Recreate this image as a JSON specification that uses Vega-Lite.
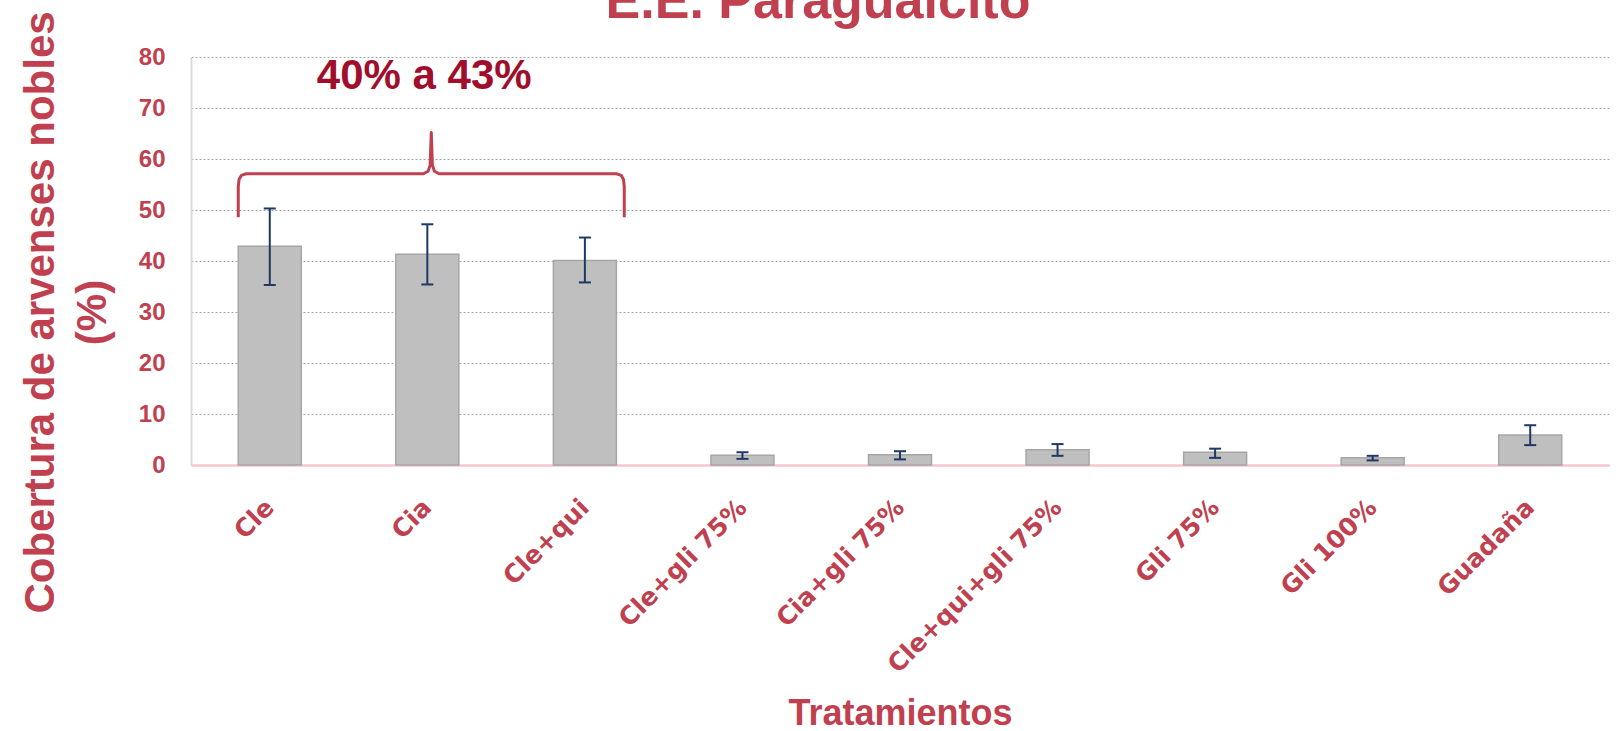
{
  "$schema": "https://vega.github.io/schema/vega-lite/v6.json",
  "autosize": "none",
  "width": 1418,
  "height": 408,
  "padding": {"left": 191, "top": 57, "right": 10, "bottom": 266},
  "background": "white",
  "config": {"view": {"stroke": null}, "font": "Liberation Sans"},
  "title": {"text": "E.E. Paraguaicito", "fontSize": 52, "fontWeight": "bold", "color": "#C0404F", "font": "Liberation Sans", "baseline": "alphabetic", "offset": 0, "dy": 59, "dx": -82},
  "datasets": {
    "bars": [
      {"trat": "Cle", "media": 42.9, "lo": 35.3, "hi": 50.3},
      {"trat": "Cia", "media": 41.3, "lo": 35.4, "hi": 47.2},
      {"trat": "Cle+qui", "media": 40.1, "lo": 35.8, "hi": 44.6},
      {"trat": "Cle+gli 75%", "media": 1.9, "lo": 1.2, "hi": 2.5},
      {"trat": "Cia+gli 75%", "media": 2.0, "lo": 1.1, "hi": 2.7},
      {"trat": "Cle+qui+gli 75%", "media": 3.0, "lo": 1.8, "hi": 4.1},
      {"trat": "Gli 75%", "media": 2.5, "lo": 1.4, "hi": 3.2},
      {"trat": "Gli 100%", "media": 1.4, "lo": 0.9, "hi": 1.8},
      {"trat": "Guadaña", "media": 5.9, "lo": 3.9, "hi": 7.8}
    ],
    "brace": [
      {"k": 1, "bx": 0.30, "by": 48.6},
      {"k": 2, "bx": 0.30, "by": 54.6},
      {"k": 3, "bx": 0.305, "by": 56.0},
      {"k": 4, "bx": 0.32, "by": 56.8},
      {"k": 5, "bx": 0.35, "by": 57.1},
      {"k": 6, "bx": 1.475, "by": 57.1},
      {"k": 7, "bx": 1.505, "by": 57.6},
      {"k": 8, "bx": 1.518, "by": 58.8},
      {"k": 9, "bx": 1.525, "by": 65.2},
      {"k": 10, "bx": 1.532, "by": 58.8},
      {"k": 11, "bx": 1.545, "by": 57.6},
      {"k": 12, "bx": 1.575, "by": 57.1},
      {"k": 13, "bx": 2.70, "by": 57.1},
      {"k": 14, "bx": 2.73, "by": 56.8},
      {"k": 15, "bx": 2.745, "by": 56.0},
      {"k": 16, "bx": 2.75, "by": 54.6},
      {"k": 17, "bx": 2.75, "by": 48.6}
    ],
    "note": [{"nx": 1.48, "ny": 76.3, "label": "40% a 43%"}]
  },
  "layer": [
    {
      "data": {"name": "bars"},
      "layer": [
        {
          "mark": {"type": "bar", "fill": "#BFBFBF", "stroke": "#A6A6A6", "strokeWidth": 1.5},
          "encoding": {
            "x": {
              "field": "trat", "type": "nominal", "sort": null,
              "scale": {"paddingInner": 0.6, "paddingOuter": 0.3},
              "axis": {
                "title": "Tratamientos", "titleFontSize": 36, "titleFontWeight": "bold", "titleColor": "#C0404F",
                "titleBaseline": "alphabetic", "titleY": 259,
                "labelAngle": -45, "labelFont": "DejaVu Sans", "labelFontSize": 25, "labelFontWeight": "bold", "labelColor": "#C0404F",
                "labelAlign": "right", "labelBaseline": "middle",
                "labelPadding": 38, "labelLimit": 0, "ticks": false, "tickSize": 0,
                "domainColor": "#F4C6CE", "domainWidth": 2.5, "grid": false
              }
            },
            "y": {
              "field": "media", "type": "quantitative",
              "scale": {"domain": [0, 80]},
              "axis": {
                "values": [0, 10, 20, 30, 40, 50, 60, 70, 80],
                "title": ["Cobertura de arvenses nobles", "(%)"],
                "titleFontSize": 42, "titleFontWeight": "bold", "titleColor": "#C0404F",
                "titleX": -151, "titleY": 255, "titleAlign": "center", "titleBaseline": "middle", "titleLineHeight": 52,
                "labelFontSize": 24, "labelFontWeight": "bold", "labelColor": "#C0404F", "labelPadding": 26,
                "ticks": false, "tickSize": 0,
                "domainColor": "#D9D9D9", "domainWidth": 2,
                "gridColor": "#A6A6A6", "gridDash": [2, 2], "gridWidth": 1
              }
            }
          }
        },
        {
          "mark": {"type": "rule", "color": "#1F3864", "strokeWidth": 2},
          "encoding": {
            "x": {"field": "trat", "type": "nominal", "sort": null},
            "y": {"field": "lo", "type": "quantitative"},
            "y2": {"field": "hi"}
          }
        },
        {
          "mark": {"type": "tick", "color": "#1F3864", "thickness": 2, "size": 12, "opacity": 1},
          "encoding": {
            "x": {"field": "trat", "type": "nominal", "sort": null},
            "y": {"field": "lo", "type": "quantitative"}
          }
        },
        {
          "mark": {"type": "tick", "color": "#1F3864", "thickness": 2, "size": 12, "opacity": 1},
          "encoding": {
            "x": {"field": "trat", "type": "nominal", "sort": null},
            "y": {"field": "hi", "type": "quantitative"}
          }
        }
      ]
    },
    {
      "data": {"name": "brace"},
      "mark": {"type": "line", "color": "#C0404F", "strokeWidth": 3, "strokeJoin": "round"},
      "encoding": {
        "x": {"field": "bx", "type": "quantitative", "scale": {"domain": [0, 9]}, "axis": null},
        "y": {"field": "by", "type": "quantitative"},
        "order": {"field": "k"}
      }
    },
    {
      "data": {"name": "note"},
      "mark": {"type": "text", "color": "#A10E2B", "fontSize": 42, "fontWeight": "bold", "baseline": "middle", "align": "center"},
      "encoding": {
        "x": {"field": "nx", "type": "quantitative", "scale": {"domain": [0, 9]}, "axis": null},
        "y": {"field": "ny", "type": "quantitative"},
        "text": {"field": "label"}
      }
    }
  ],
  "resolve": {"scale": {"x": "independent"}}
}
